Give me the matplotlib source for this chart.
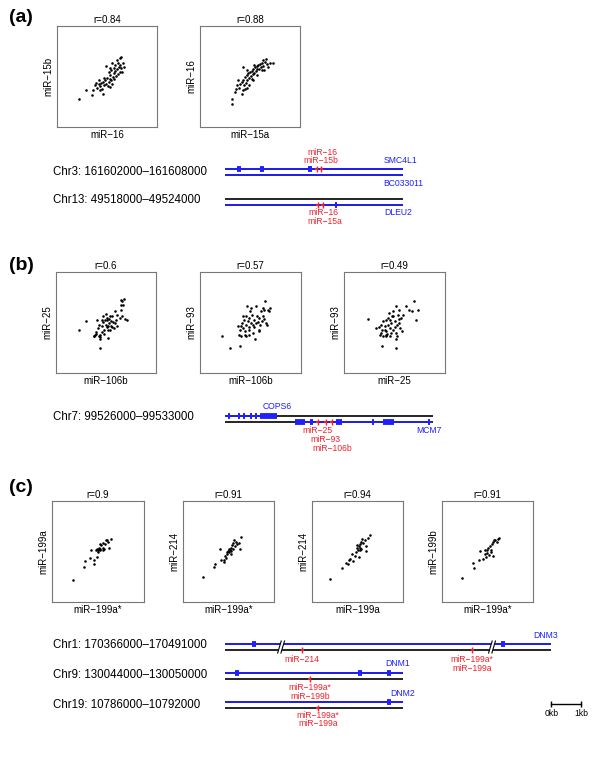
import matplotlib
matplotlib.use('Agg')
import matplotlib.pyplot as plt

plt.rcParams['font.family'] = ['Liberation Sans', 'DejaVu Sans']

W, H = 600, 772
fig = plt.figure(figsize=(W / 100, H / 100), dpi=100)


def fx(px):
    return px / W


def fy(py):
    return 1 - py / H


# ---------------- scatter data (normalised expression, 0-100) ----------------
a1_title, a1_xlabel, a1_ylabel = "r=0.84", "miR\u221216", "miR\u221215b"
a1_x = [22.3, 29.3, 35, 36, 38.3, 40, 41.7, 43.3, 44, 45, 46, 46.7, 48.3, 49.3, 50, 50.7, 51.7, 52.7, 53.3, 54,
        55, 56, 56.7, 57.3, 58.3, 59.3, 60, 60.7, 61.7, 62.7, 63.3, 64, 58.3, 56.7, 49.3, 51.7, 54, 47.3, 42, 38.7,
        43.3, 46, 53.3, 60, 62.7, 64, 66, 67.3, 60.7, 65, 55, 52.7]
a1_y = [28.1, 36.4, 31.5, 37.1, 41.4, 39.1, 42.4, 40.4, 43.7, 38.1, 44.7, 41.4, 46.4, 43, 49, 40.4, 44.7, 48, 51.3,
        46.4, 43, 49.7, 53, 48, 55.6, 50.3, 57, 52.3, 59.6, 54.6, 61.3, 58, 61.3, 58, 60.6, 54.6, 56.3, 49, 46.4, 44,
        36.4, 33.1, 39.7, 66.2, 67.9, 68.9, 62.9, 59.6, 63.6, 54.6, 63.6, 58]

a2_title, a2_xlabel, a2_ylabel = "r=0.88", "miR\u221215a", "miR\u221216"
a2_x = [31.7, 32.3, 35, 36, 37.3, 39.3, 40, 41.7, 42.7, 43.3, 44, 45, 46, 46.7, 47.3, 48.3, 49.3, 50, 50.7, 51.7,
        52.7, 53.3, 54, 55, 56, 56.7, 57.3, 58.3, 59.3, 60, 60.7, 61.7, 62.7, 63.3, 65, 66.7, 68.3, 70, 72.7, 64,
        56.7, 53.3, 49.3, 45, 41.7, 51.7, 46.7, 38.3, 43.3, 61.7, 66, 47.3, 54]
a2_y = [22.5, 28.1, 34.8, 38.1, 41.4, 39.1, 43, 44.7, 36.4, 46.4, 41.4, 49.7, 43.7, 51.3, 47, 53, 49, 54.6, 50.3,
        55.6, 52.3, 57.9, 53.6, 59.6, 55.6, 60.3, 57, 61.3, 57.9, 62.3, 59.6, 63.6, 60.3, 66.2, 64.6, 62.3, 59.6,
        63.6, 63.6, 56.3, 51.3, 46.4, 41.4, 38.1, 33.1, 48, 56.3, 47, 59.6, 56.3, 66.9, 39.1, 61.3]

b1_title, b1_xlabel, b1_ylabel = "r=0.6", "miR\u2212106b", "miR\u221225"
b1_x = [23.2, 30.3, 37.7, 40.4, 41.8, 42.8, 43.8, 44.4, 45.5, 46.1, 47.1, 47.8, 48.5, 49.5, 50.5, 51.2, 51.9, 52.9,
        53.9, 54.5, 55.2, 56.2, 57.2, 57.9, 58.6, 59.6, 60.6, 61.3, 52.9, 50.5, 46.1, 41.1, 39.4, 38.4, 42.8, 44.4,
        64.6, 66.3, 67.3, 64.6, 64, 66.3, 68.7, 70.7, 49.5, 53.9, 56.2, 51.9, 47.8, 44.4, 40.4, 47.1, 51.9, 58.9,
        64.6, 68]
b1_y = [42.9, 51.2, 36.3, 38.9, 44.6, 47.9, 24.8, 38, 40.3, 46.2, 50.2, 42.9, 52.8, 47.9, 45.5, 54.5, 34.7, 49.5,
        42.9, 51.2, 46.9, 56.1, 50.2, 44.6, 61.1, 52.8, 46.9, 57.8, 53.5, 52.1, 52.1, 52.8, 38, 37, 36.3, 35.6,
        72.6, 71, 67.7, 62.7, 54.5, 56.1, 53.5, 52.8, 58.7, 56.8, 45.5, 42.9, 38.9, 33.7, 40.3, 56.8, 46.2, 49.5,
        67.7, 73.3]

b2_title, b2_xlabel, b2_ylabel = "r=0.57", "miR\u2212106b", "miR\u221293"
b2_x = [22, 29.3, 39.8, 39.1, 39.8, 40.8, 41.8, 42.4, 43.1, 44.1, 45.1, 45.7, 46.4, 47.4, 48.4, 49, 49.7, 50.7,
        51.6, 52.3, 53, 53.9, 54.9, 55.6, 56.3, 57.2, 58.2, 58.9, 59.5, 60.5, 61.5, 62.2, 62.8, 63.8, 64.8, 65.5,
        66.1, 67.1, 68.1, 69.4, 63.8, 52.3, 49, 44.1, 45.7, 40.8, 48.4, 50.7, 55.6, 58.9, 37.5, 42.4]
b2_y = [37, 24.8, 27.1, 38, 42.9, 46.9, 49.5, 44.6, 52.8, 41.3, 56.8, 47.9, 66, 51.2, 42.9, 54.5, 61.1, 49.5,
        57.8, 39.6, 52.8, 45.5, 33.7, 66, 56.1, 50.2, 42.9, 54.5, 47.9, 61.1, 51.2, 64.4, 56.8, 53.5, 71, 49.5,
        47.9, 62.7, 61.1, 64.4, 62.7, 47.9, 38, 38, 36.3, 36.3, 45.5, 64.4, 49.5, 41.3, 46.9, 56.8]

b3_title, b3_xlabel, b3_ylabel = "r=0.49", "miR\u221225", "miR\u221293"
b3_x = [23.7, 37.8, 51, 34.5, 35.2, 36.8, 37.8, 38.5, 39.1, 40.1, 41.1, 41.8, 42.4, 43.4, 44.4, 45.1, 45.7, 46.7,
        47.7, 48.4, 49, 50, 51, 51.6, 52.3, 53.3, 54.3, 54.9, 55.6, 56.6, 57.6, 58.9, 60.9, 64.1, 67.4, 69.7, 71.4,
        73, 51.6, 52.3, 45.1, 41.8, 36.8, 31.9, 40.1, 43.4, 48.4, 54.3, 46.7, 50, 41.1]
b3_y = [53.8, 27.1, 24.8, 45.5, 38, 47.9, 42.9, 51.2, 36.3, 46.2, 52.8, 41.3, 38.9, 47.9, 59.4, 44.6, 52.8, 49.5,
        56.1, 42.9, 61.1, 51.2, 66, 39.6, 47.9, 57.8, 62.7, 53.5, 44.6, 54.5, 41.3, 57.8, 66, 62.7, 61.1, 71, 52.1,
        62.7, 33.7, 37, 36.3, 36.3, 39.6, 44.6, 42.2, 54.5, 56.1, 49.5, 39.6, 45.5, 38]

c1_title, c1_xlabel, c1_ylabel = "r=0.9", "miR\u2212199a*", "miR\u2212199a"
c1_x = [22.9, 34.9, 36, 41.8, 42.2, 45.5, 45.5, 47.6, 48.4, 49.1, 50.2, 50.9, 52, 52.7, 53.8, 54.9, 55.6, 56.4,
        57.5, 58.5, 60, 61.1, 62.2, 63.6, 52, 50.5, 49.5, 55.6]
c1_y = [22.1, 34.7, 40.6, 43.9, 51.8, 41.9, 38, 51.2, 52.8, 44.6, 51.8, 53.8, 57.8, 51.8, 56.1, 53.8, 58.4, 52.8,
        57.1, 61.1, 61.7, 59.4, 53.8, 62.7, 52.8, 51.2, 49.5, 51.2]

c2_title, c2_xlabel, c2_ylabel = "r=0.91", "miR\u2212199a*", "miR\u2212214"
c2_x = [22.1, 34.6, 35.7, 41.2, 41.9, 44.9, 45.6, 46.7, 47.8, 48.5, 49.3, 50.4, 51.5, 52.2, 52.9, 54, 55.1, 55.9,
        56.6, 57.7, 58.8, 61.4, 62.5, 63.2, 50.4, 48.5, 52.2, 54.8]
c2_y = [24.8, 34.7, 37.3, 52.8, 41.9, 41.3, 39.6, 45.2, 43.9, 47.9, 50.5, 49.5, 51.8, 50.5, 53.8, 56.1, 58.4, 61.7,
        55.1, 59.4, 57.8, 58.4, 52.8, 64.4, 52.8, 49.5, 47.9, 52.8]

c3_title, c3_xlabel, c3_ylabel = "r=0.94", "miR\u2212199a", "miR\u2212214"
c3_x = [19.4, 33.3, 37, 39.6, 40.7, 42.1, 44.3, 46.9, 48.7, 49.5, 50.5, 51.6, 52.4, 53.1, 54.2, 55.3, 56, 57.9, 59,
        59.7, 61.5, 63.4, 51.6, 53.1, 49.5, 54.2, 45.1]
c3_y = [23.1, 34, 38.6, 37.3, 41.9, 42.9, 47.9, 45.2, 49.5, 53.8, 51.8, 55.1, 53.8, 57.1, 59.4, 62.7, 58.4, 61.1,
        50.5, 55.1, 63.7, 66, 44.6, 51.2, 56.1, 52.8, 40.6]

c4_title, c4_xlabel, c4_ylabel = "r=0.91", "miR\u2212199a*", "miR\u2212199b"
c4_x = [21.8, 34.5, 35.3, 41.1, 41.8, 44.7, 47.3, 48.4, 49.1, 50.9, 52, 52.7, 53.5, 54.5, 55.6, 56.4, 57.1, 58.2,
        60, 61.8, 62.9, 53.5, 49.8, 47.3]
c4_y = [24.1, 38.6, 34, 41.9, 50.5, 42.9, 47.9, 44.6, 51.2, 53.8, 46.2, 55.1, 51.8, 57.1, 59.4, 45.2, 61.1, 61.7,
        59.4, 62.7, 63.7, 49.5, 48.5, 51.8]

# ---------------- genomic track data (kb from window start) ----------------
chr3_label, chr3_span = "Chr3: 161602000\u2013161608000", 6
chr3_top_gene, chr3_top_range, chr3_top_exons = "SMC4L1", (0, 6), [(0.40, 0.53), (1.18, 1.31), (2.80, 2.93)]
chr3_bot_gene, chr3_bot_range, chr3_bot_exons = "BC033011", (0, 6), []
chr3_mirs = ["miR\u221216", "miR\u221215b"]
chr3_mir_pos = [3.10, 3.24]

chr13_label, chr13_span = "Chr13: 49518000\u201349524000", 6
chr13_bot_gene, chr13_bot_range, chr13_bot_exons = "DLEU2", (0, 6), [(3.70, 3.79)]
chr13_mirs = ["miR\u221216", "miR\u221215a"]
chr13_mir_pos = [3.13, 3.30]

chr7_label, chr7_span = "Chr7: 99526000\u201399533000", 7
chr7_top_gene, chr7_top_range = "COPS6", (0, 1.75)
chr7_top_exons = [(0.10, 0.17), (0.43, 0.51), (0.60, 0.68), (0.84, 0.92), (1.01, 1.09), (1.18, 1.75)]
chr7_bot_gene, chr7_bot_range = "MCM7", (2.36, 6.98)
chr7_bot_exons = [(2.36, 2.70), (2.86, 2.95), (3.73, 3.93), (4.95, 5.03), (5.33, 5.70), (6.83, 6.91)]
chr7_mirs = ["miR\u221225", "miR\u221293", "miR\u2212106b"]
chr7_mir_pos = [3.13, 3.40, 3.60]

chr1_label, chr1_span = "Chr1: 170366000\u2013170491000", 11
chr1_top_gene, chr1_top_range, chr1_top_exons = "DNM3", (0, 11), [(0.92, 1.05), (9.30, 9.44)]
chr1_breaks = [1.92, 9.03]
chr1_mir_pos = [2.60, 8.33]
chr1_mir_names = [["miR\u2212214"], ["miR\u2212199a*", "miR\u2212199a"]]

chr9_label, chr9_span = "Chr9: 130044000\u2013130050000", 6
chr9_top_gene, chr9_top_range, chr9_top_exons = "DNM1", (0, 6), [(0.34, 0.47), (4.49, 4.62), (5.47, 5.60)]
chr9_mir_pos = [2.86]
chr9_mir_names = [["miR\u2212199a*", "miR\u2212199b"]]

chr19_label, chr19_span = "Chr19: 10786000\u201310792000", 6
chr19_top_gene, chr19_top_range, chr19_top_exons = "DNM2", (0, 6), [(5.47, 5.60)]
chr19_mir_pos = [3.13]
chr19_mir_names = [["miR\u2212199a*", "miR\u2212199a"]]

scale_kb = [11.0, 12.0]
scale_labels = ["0kb", "1kb"]

BLUE = "#1f1fff"
RED = "#f0202a"
BOX = "#777777"
FS_AX = 7.0
FS_GENE = 6.2
LINE_STEP = 1.45


# ---------------- scatter panels ----------------
def scatter_panel(left, top, w, h, xs, ys, title, xlabel, ylabel):
    ax = fig.add_axes([fx(left), fy(top + h), w / W, h / H])
    ax.scatter(xs, ys, s=3.4, color="black", linewidths=0)
    ax.set_xlim(0, 100)
    ax.set_ylim(0, 100)
    ax.set_xticks([])
    ax.set_yticks([])
    for sp in ax.spines.values():
        sp.set_color(BOX)
        sp.set_linewidth(0.8)
    ax.set_title(title, fontsize=FS_AX, pad=2.5)
    ax.set_xlabel(xlabel, fontsize=FS_AX, labelpad=2.5)
    ax.set_ylabel(ylabel, fontsize=FS_AX, labelpad=2.5)
    return ax


scatter_panel(57, 26, 100, 101, a1_x, a1_y, a1_title, a1_xlabel, a1_ylabel)
scatter_panel(200, 26, 100, 101, a2_x, a2_y, a2_title, a2_xlabel, a2_ylabel)

scatter_panel(56, 272, 100, 101, b1_x, b1_y, b1_title, b1_xlabel, b1_ylabel)
scatter_panel(200, 272, 101, 101, b2_x, b2_y, b2_title, b2_xlabel, b2_ylabel)
scatter_panel(344, 272, 101, 101, b3_x, b3_y, b3_title, b3_xlabel, b3_ylabel)

scatter_panel(52, 501, 92, 101, c1_x, c1_y, c1_title, c1_xlabel, c1_ylabel)
scatter_panel(183, 501, 91, 101, c2_x, c2_y, c2_title, c2_xlabel, c2_ylabel)
scatter_panel(312, 501, 91, 101, c3_x, c3_y, c3_title, c3_xlabel, c3_ylabel)
scatter_panel(442, 501, 91, 101, c4_x, c4_y, c4_title, c4_xlabel, c4_ylabel)

# panel letters
for letter, py in [("(a)", 17), ("(b)", 265), ("(c)", 487)]:
    fig.text(fx(9), fy(py), letter, fontsize=14, fontweight="bold", va="center", ha="left")

# ---------------- genomic tracks ----------------
PX_PER_KB = 29.67
TRACK_X0 = 225
TOP, BOT = 0.5, -0.5


def track_axes(center_py, span_kb, label, label_py):
    h = 60
    ax = fig.add_axes([fx(TRACK_X0), fy(center_py + h / 2), span_kb * PX_PER_KB / W, h / H])
    ax.set_xlim(0, span_kb)
    ax.set_ylim(-5, 5)
    ax.axis("off")
    # genomic backbone (both strands)
    ax.plot([0, span_kb], [TOP, TOP], color="black", lw=1.2, solid_capstyle="butt")
    ax.plot([0, span_kb], [BOT, BOT], color="black", lw=1.2, solid_capstyle="butt")
    fig.text(fx(53), fy(label_py), label, fontsize=8.3, va="center", ha="left")
    return ax


def draw_gene(ax, strand_y, rng, exons):
    ax.plot(list(rng), [strand_y, strand_y], color=BLUE, lw=1.3, solid_capstyle="butt")
    for s, e in exons:
        ax.plot([s, e], [strand_y, strand_y], color=BLUE, lw=4.2, solid_capstyle="butt")


def draw_mirs(ax, strand_y, positions):
    for p in positions:
        ax.plot([p - 0.05, p + 0.05], [strand_y, strand_y], color=RED, lw=1.6, solid_capstyle="butt")
        ax.plot([p], [strand_y], marker="|", ms=4.5, mew=1.0, color=RED)


def gene_text(ax, x, y, s, color, ha="center"):
    ax.text(x, y, s, color=color, fontsize=FS_GENE, ha=ha, va="center", clip_on=False)


# Chr3
ax = track_axes(172, chr3_span, chr3_label, 172)
draw_gene(ax, TOP, chr3_top_range, chr3_top_exons)
draw_gene(ax, BOT, chr3_bot_range, chr3_bot_exons)
draw_mirs(ax, TOP, chr3_mir_pos)
gene_text(ax, chr3_mir_pos[1] - 0.0, 1.85, chr3_mirs[1], RED)
gene_text(ax, chr3_mir_pos[1] + 0.05, 1.85 + LINE_STEP, chr3_mirs[0], RED)
gene_text(ax, chr3_top_range[1] - 0.1, 1.85, chr3_top_gene, BLUE)
gene_text(ax, chr3_bot_range[1], -1.85, chr3_bot_gene, BLUE)

# Chr13
ax = track_axes(202, chr13_span, chr13_label, 200)
draw_gene(ax, BOT, chr13_bot_range, chr13_bot_exons)
draw_mirs(ax, BOT, chr13_mir_pos)
gene_text(ax, chr13_mir_pos[1] + 0.0, -1.75, chr13_mirs[0], RED)
gene_text(ax, chr13_mir_pos[1] + 0.05, -1.75 - LINE_STEP, chr13_mirs[1], RED)
gene_text(ax, chr13_bot_range[1] - 0.17, -1.75, chr13_bot_gene, BLUE)

# Chr7
ax = track_axes(419, chr7_span, chr7_label, 417)
draw_gene(ax, TOP, chr7_top_range, chr7_top_exons)
draw_gene(ax, BOT, chr7_bot_range, chr7_bot_exons)
draw_mirs(ax, BOT, chr7_mir_pos)
gene_text(ax, chr7_top_range[1], 2.0, chr7_top_gene, BLUE)
gene_text(ax, chr7_bot_range[1] - 0.1, -2.0, chr7_bot_gene, BLUE)
for i, (name, p) in enumerate(zip(chr7_mirs, chr7_mir_pos)):
    gene_text(ax, p, -2.0 - LINE_STEP * i, name, RED)

# Chr1 (with axis breaks)
ax = track_axes(647, chr1_span, chr1_label, 645)
draw_gene(ax, TOP, chr1_top_range, chr1_top_exons)
draw_mirs(ax, BOT, chr1_mir_pos)
for b in chr1_breaks:
    dx = 0.06
    ax.fill([b - 0.09 - dx, b + 0.03 - dx, b + 0.03 + dx, b - 0.09 + dx],
            [-1.0, 1.0, 1.0, -1.0], color="white", zorder=5, lw=0)
    for off in (-0.055, 0.055):
        ax.plot([b - 0.09 + off, b + 0.03 + off], [-1.0, 1.0], color="black", lw=0.8, zorder=6)
gene_text(ax, chr1_top_range[1] - 0.2, 2.0, chr1_top_gene, BLUE)
for names, p in zip(chr1_mir_names, chr1_mir_pos):
    for i, name in enumerate(names):
        gene_text(ax, p, -2.1 - LINE_STEP * i, name, RED)

# Chr9
ax = track_axes(676, chr9_span, chr9_label, 675)
draw_gene(ax, TOP, chr9_top_range, chr9_top_exons)
draw_mirs(ax, BOT, chr9_mir_pos)
gene_text(ax, chr9_top_range[1] - 0.17, 2.15, chr9_top_gene, BLUE)
for names, p in zip(chr9_mir_names, chr9_mir_pos):
    for i, name in enumerate(names):
        gene_text(ax, p, -2.0 - LINE_STEP * i, name, RED)

# Chr19
ax = track_axes(705, chr19_span, chr19_label, 705)
draw_gene(ax, TOP, chr19_top_range, chr19_top_exons)
draw_mirs(ax, BOT, chr19_mir_pos)
gene_text(ax, chr19_top_range[1], 2.0, chr19_top_gene, BLUE)
for names, p in zip(chr19_mir_names, chr19_mir_pos):
    for i, name in enumerate(names):
        gene_text(ax, p, -1.7 - LINE_STEP * i, name, RED)

# scale bar
ax.plot(scale_kb, [0.2, 0.2], color="black", lw=1.0, clip_on=False,
        marker="|", ms=5, mew=1.0)
for k, lab in zip(scale_kb, scale_labels):
    ax.text(k, -1.5, lab, fontsize=FS_GENE, ha="center", va="center", clip_on=False)

fig.savefig("out.png", dpi=100)
